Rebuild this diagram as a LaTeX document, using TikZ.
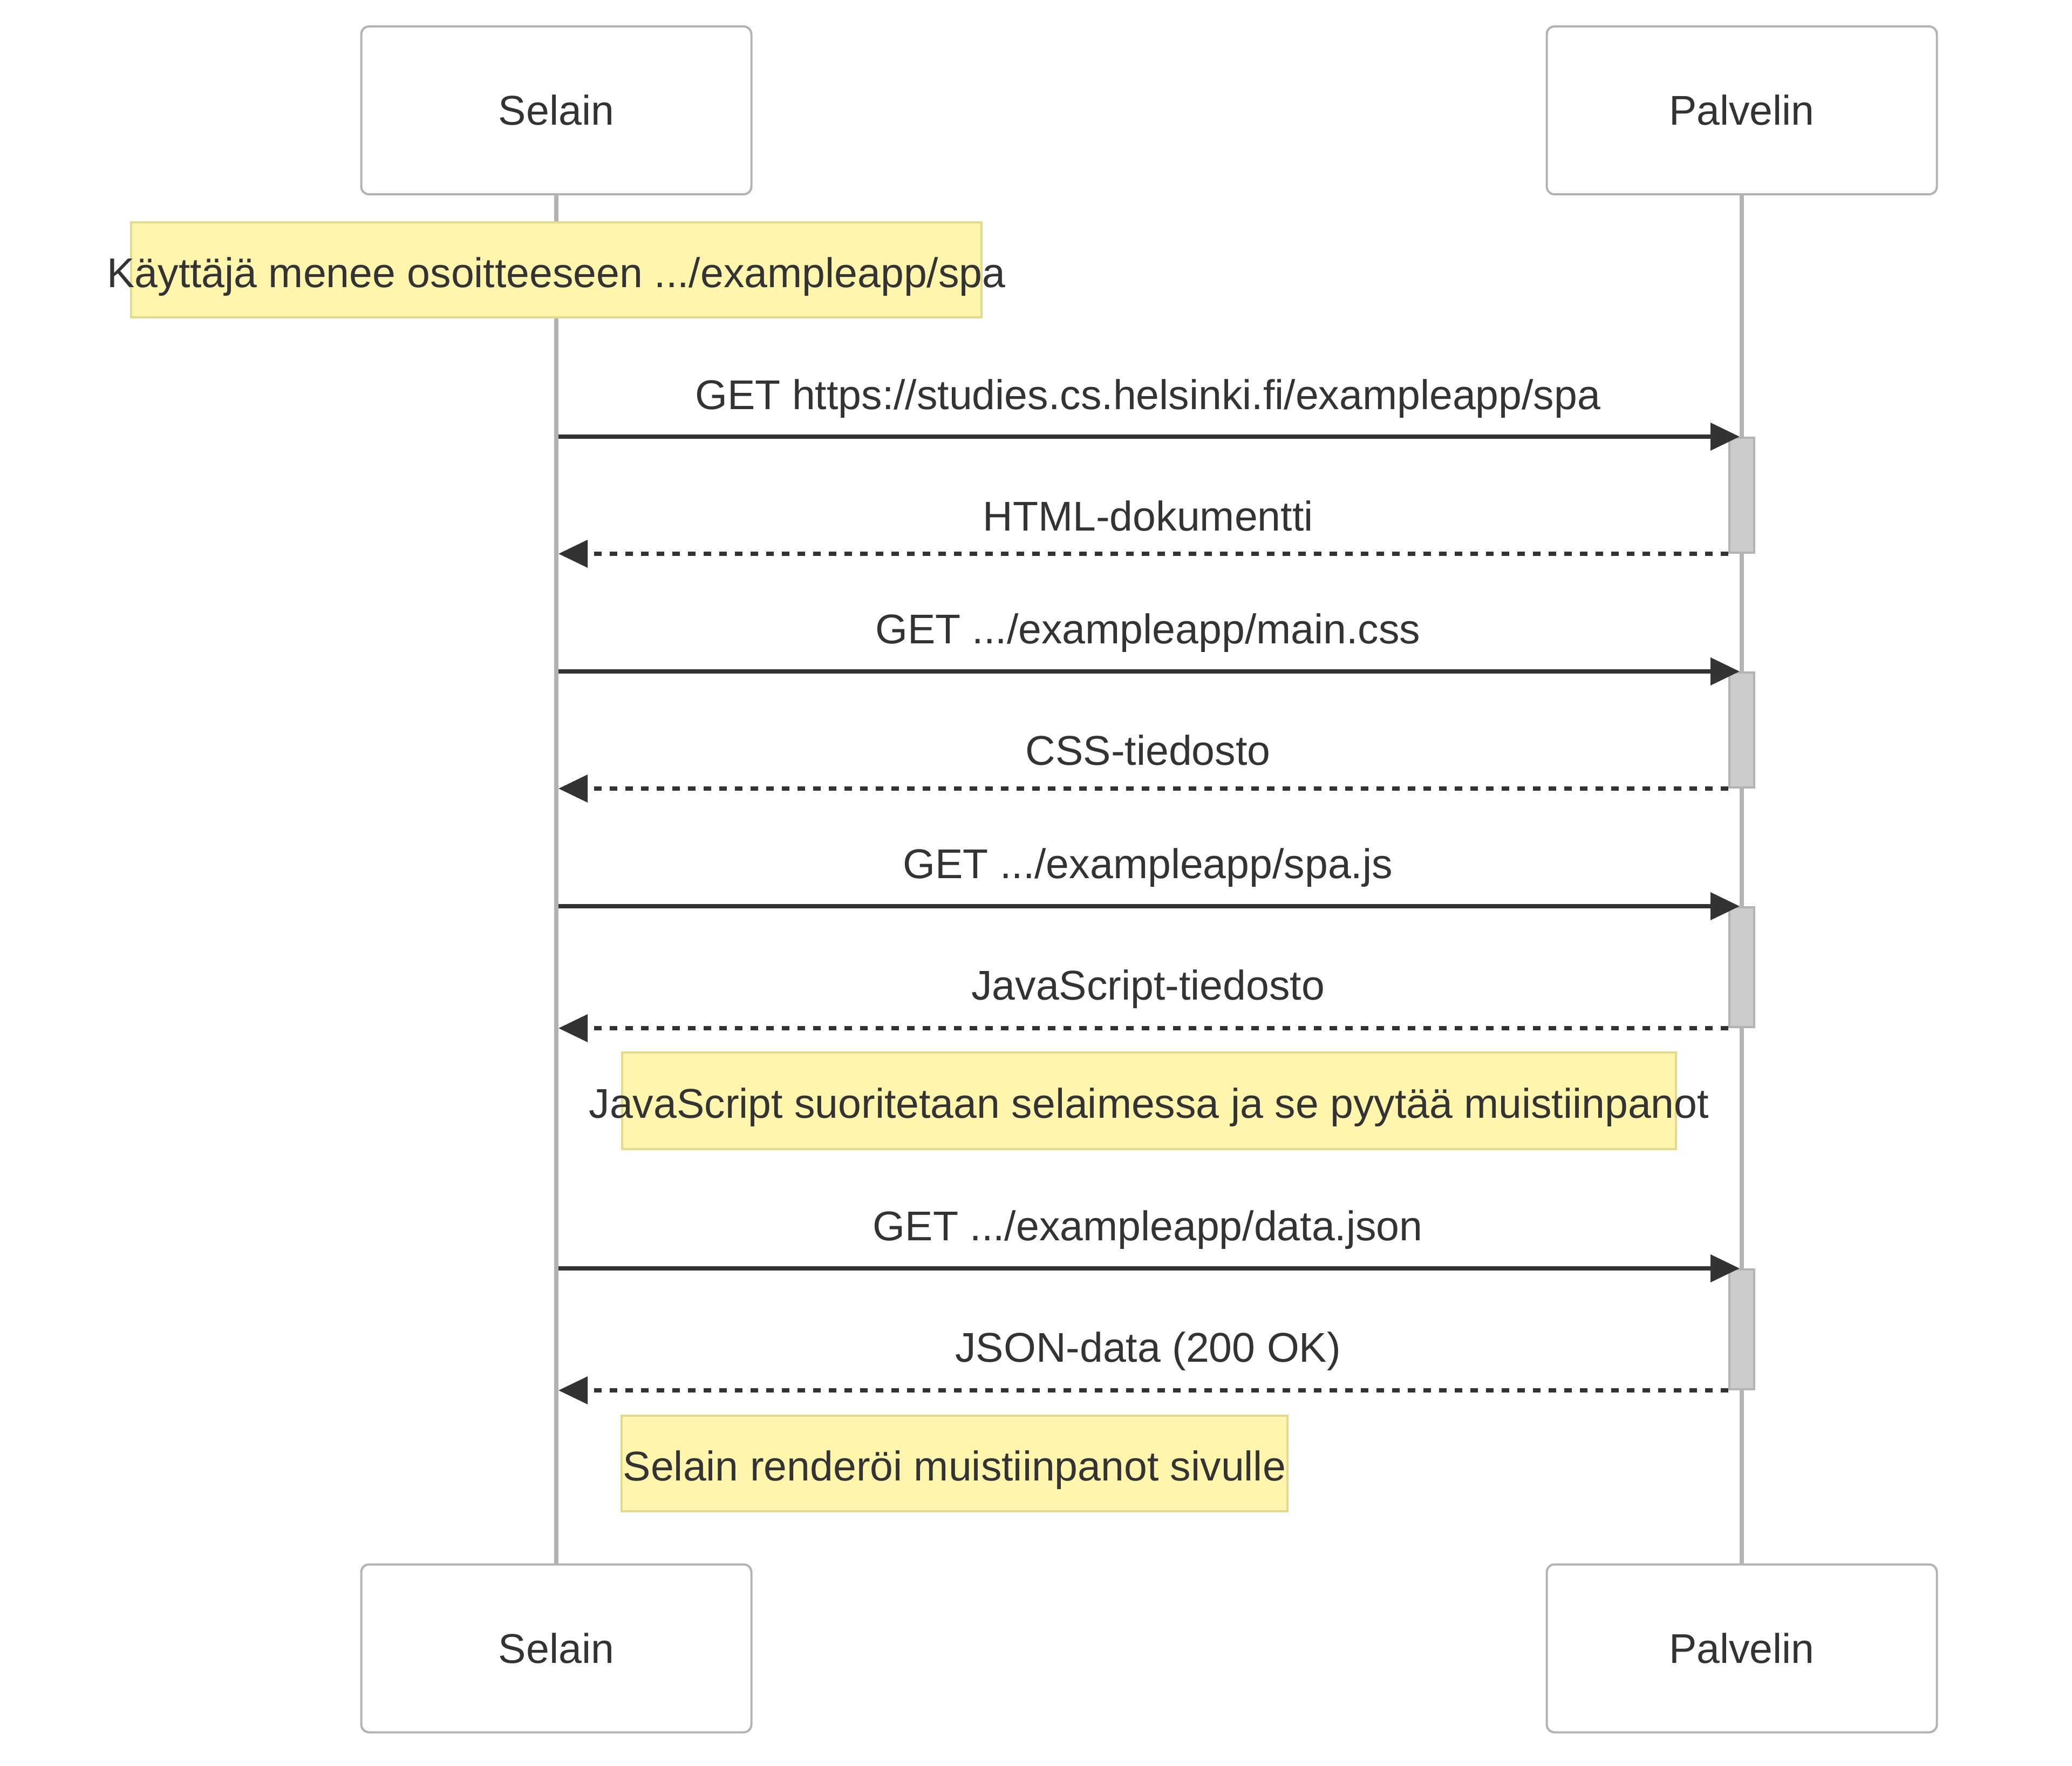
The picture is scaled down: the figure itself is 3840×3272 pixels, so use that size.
\documentclass[tikz,border=0pt]{standalone}
\usepackage{fontspec}
\setmainfont{Liberation Sans}
\usetikzlibrary{arrows.meta}
\definecolor{txt}{HTML}{333333}
\definecolor{life}{HTML}{B3B3B3}
\definecolor{actfill}{HTML}{CCCCCC}
\definecolor{notefill}{HTML}{FFF5AD}
\definecolor{notedraw}{HTML}{E3DA8D}
\begin{document}
\begin{tikzpicture}[x=0.25pt,y=-0.25pt,
  every node/.style={font=\fontsize{19.25pt}{23pt}\selectfont, text=txt},
  actor/.style={draw=life, line width=1pt, fill=white, rounded corners=3.6pt,
    minimum width=180.75pt, minimum height=77.75pt, inner sep=0pt,
    text height=13.5pt, text depth=0pt},
  lifeline/.style={draw=life, line width=2.1pt},
  actbox/.style={draw=life, fill=actfill, line width=1pt, minimum width=11.5pt, inner sep=0pt},
  notebox/.style={draw=notedraw, fill=notefill, line width=1pt, inner sep=0pt},
  notetext/.style={inner sep=0pt, anchor=base},
  req/.style={draw=txt, line width=1.8pt, -{Triangle[length=13.5pt,width=12.5pt]}},
  resp/.style={req, dash pattern=on 3.6pt off 3.65pt},
  msglbl/.style={inner sep=0pt, anchor=base}
]
\useasboundingbox (0,0) rectangle (3840,3272);

% participants
\node[actor] (selT) at (1031,204.5) {Selain};
\node[actor] (palT) at (3228,204.5) {Palvelin};
\node[actor] (selB) at (1031,3054) {Selain};
\node[actor] (palB) at (3228,3054) {Palvelin};

% lifelines
\draw[lifeline] (selT.south) -- (selB.north);
\draw[lifeline] (palT.south) -- (palB.north);

\coordinate (selx) at (1035,0);

% note 1
\node[notebox, minimum width=394pt, minimum height=44pt] (note1) at (1031,500) {};
\node[notetext] (note1t) at ([yshift=-8.25pt]note1.center) {Käyttäjä menee osoitteeseen .../exampleapp/spa};

% activations
\node[actbox, minimum height=53.25pt] (act1) at (3228,917.5) {};
\node[actbox, minimum height=53.25pt] (act2) at (3228,1352.5) {};
\node[actbox, minimum height=55.5pt] (act3) at (3228,1792) {};
\node[actbox, minimum height=55.5pt] (act4) at (3228,2463) {};

% messages
\draw[req] (selx |- act1.north) -- ([xshift=-1pt]act1.north)
  node[msglbl, pos=0.499, yshift=12.6pt] {GET https://studies.cs.helsinki.fi/exampleapp/spa};
\draw[resp] (act1.south west) -- (selx |- act1.south west)
  node[msglbl, pos=0.496, yshift=10.5pt] {HTML-dokumentti};

\draw[req] (selx |- act2.north) -- ([xshift=-1pt]act2.north)
  node[msglbl, pos=0.499, yshift=12.9pt] {GET .../exampleapp/main.css};
\draw[resp] (act2.south west) -- (selx |- act2.south west)
  node[msglbl, pos=0.496, yshift=11pt] {CSS-tiedosto};

\draw[req] (selx |- act3.north) -- ([xshift=-1pt]act3.north)
  node[msglbl, pos=0.499, yshift=12.9pt] {GET .../exampleapp/spa.js};
\draw[resp] (act3.south west) -- (selx |- act3.south west)
  node[msglbl, pos=0.496, yshift=13.25pt] {JavaScript-tiedosto};

% note 2
\node[notebox, minimum width=488.25pt, minimum height=44.75pt] (note2) at (2129.5,2039.5) {};
\node[notetext] (note2t) at ([yshift=-7.9pt]note2.center) {JavaScript suoritetaan selaimessa ja se pyytää muistiinpanot};

\draw[req] (selx |- act4.north) -- ([xshift=-1pt]act4.north)
  node[msglbl, pos=0.499, yshift=12.9pt] {GET .../exampleapp/data.json};
\draw[resp] (act4.south west) -- (selx |- act4.south west)
  node[msglbl, pos=0.496, yshift=13.25pt] {JSON-data (200 OK)};

% note 3
\node[notebox, minimum width=308.5pt, minimum height=44.25pt] (note3) at (1769,2711.5) {};
\node[notetext] (note3t) at ([yshift=-7.9pt]note3.center) {Selain renderöi muistiinpanot sivulle};
\end{tikzpicture}
\end{document}
